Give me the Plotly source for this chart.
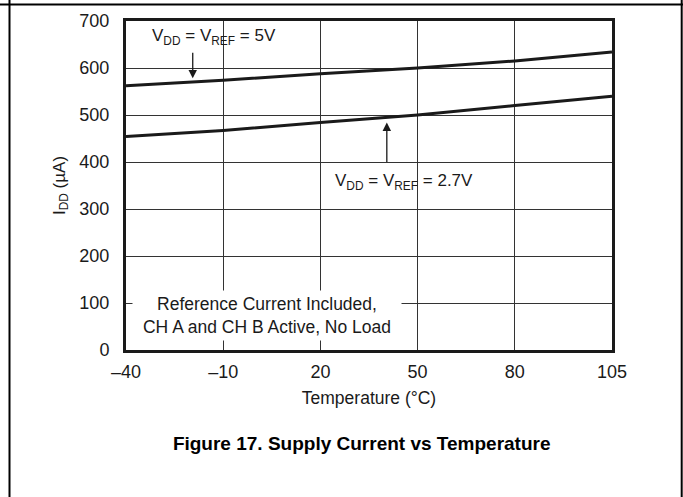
import numpy as np
import plotly.graph_objects as go

# ── Data ──────────────────────────────────────────────────────────────────────
TEMP_TICKS = [-40, -10, 20, 50, 80, 105]
TEMP_LABELS = ["\u201340", "\u201310", "20", "50", "80", "105"]

temp_c = [-40, -10, 20, 50, 80, 105]
idd_5v = [562, 574, 588, 600, 615, 634]
idd_2v7 = [454, 467, 484, 500, 520, 540]

Y_TICKS = [0, 100, 200, 300, 400, 500, 600, 700]

INK = "#1a1a1a"
GRID = "#333333"
FONT = "Liberation Sans, Arial, sans-serif"

# the printed x scale is evenly spaced per label, so place temps on that scale
TICK_POS = list(range(len(TEMP_TICKS)))


def tpos(t):
    return np.interp(t, TEMP_TICKS, TICK_POS)


fig = go.Figure()

fig.add_trace(go.Scatter(x=tpos(temp_c), y=idd_5v, mode="lines",
                         line=dict(color=INK, width=3), name="5V"))
fig.add_trace(go.Scatter(x=tpos(temp_c), y=idd_2v7, mode="lines",
                         line=dict(color=INK, width=3), name="2.7V"))

# curve labels + arrows
fig.add_annotation(x=tpos(-12.8), y=667, text="V<sub>DD</sub> = V<sub>REF</sub> = 5V",
                   showarrow=False, font=dict(size=17, color=INK))
fig.add_annotation(x=tpos(-19.4), y=578, ax=0, ay=-27, text="", showarrow=True,
                   arrowhead=2, arrowsize=1.3, arrowwidth=1.3, arrowcolor=INK)

fig.add_annotation(x=tpos(45.9), y=357, text="V<sub>DD</sub> = V<sub>REF</sub> = 2.7V",
                   showarrow=False, font=dict(size=17, color=INK))
fig.add_annotation(x=tpos(40.5), y=484, ax=0, ay=41, text="", showarrow=True,
                   arrowhead=2, arrowsize=1.3, arrowwidth=1.3, arrowcolor=INK)

# condition note (white box hides the grid behind it)
fig.add_annotation(x=tpos(3.5), y=74, yanchor="middle", width=262,
                   text="Reference Current Included,<br>CH A and CH B Active, No Load",
                   showarrow=False, bgcolor="white", borderpad=3,
                   font=dict(size=17.5, color=INK))

# outer datasheet frame
fig.add_shape(type="line", xref="paper", yref="paper", x0=-0.26, x1=1.2,
              y0=1.0502, y1=1.0502, line=dict(color="black", width=2))
fig.add_shape(type="line", xref="paper", yref="paper", x0=-0.2397, x1=-0.2397,
              y0=-0.46, y1=1.07, line=dict(color="black", width=2))
fig.add_shape(type="line", xref="paper", yref="paper", x0=1.1434, x1=1.1434,
              y0=-0.46, y1=1.07, line=dict(color="black", width=2))

fig.update_layout(
    width=683, height=497,
    paper_bgcolor="white", plot_bgcolor="white",
    margin=dict(l=126, r=71, t=21, b=147),
    showlegend=False,
    font=dict(family=FONT, color=INK, size=17),
    title=dict(text="<b>Figure 17. Supply Current vs Temperature</b>",
               x=0.485, xref="paper", y=(497 - 443) / 497, yanchor="middle",
               font=dict(size=19, color="black")),
)
fig.update_xaxes(
    range=[0, 5], tickvals=TICK_POS, ticktext=TEMP_LABELS,
    tickfont=dict(size=18),
    showgrid=True, gridcolor=GRID, gridwidth=1.2, zeroline=False,
    showline=True, mirror=True, linecolor=INK, linewidth=3,
    ticks="inside", ticklen=10, tickcolor=GRID, tickwidth=1.2,
    ticklabelstandoff=3,
    title=dict(text="Temperature (\u00b0C)", standoff=12, font=dict(size=17.5)),
)
fig.update_yaxes(
    range=[0, 700], tickvals=Y_TICKS,
    tickfont=dict(size=18),
    showgrid=True, gridcolor=GRID, gridwidth=1.2, zeroline=False,
    showline=True, mirror=True, linecolor=INK, linewidth=3,
    ticks="inside", ticklen=5, tickcolor=GRID, tickwidth=1.2,
    ticklabelstandoff=10,
    title=dict(text="I<sub>DD</sub> (\u00b5A)", standoff=10, font=dict(size=17)),
)

# page body has an 8px default margin; drop it so the figure sits at 0,0
fig.write_html("out.html", config={"displayModeBar": False},
               post_script="document.body.style.margin='0';")
